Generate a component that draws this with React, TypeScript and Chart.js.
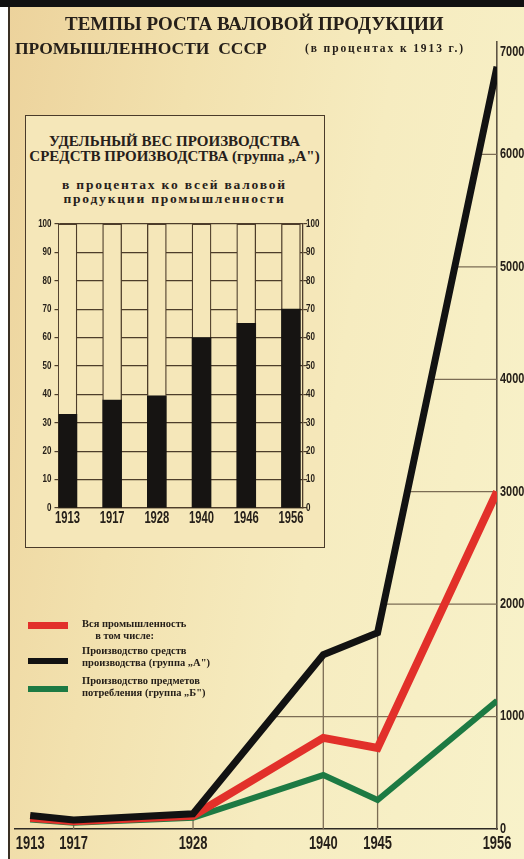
import React, { useEffect, useRef } from 'react';
import { Chart, registerables } from 'chart.js';

Chart.register(...registerables);

// ---- Main chart data (index, % of 1913) ----
const YEARS = [1913, 1917, 1928, 1940, 1945, 1956];
const TOTAL = [100, 70, 118, 810, 720, 3000];
const GROUP_A = [120, 80, 135, 1550, 1745, 6780];
const GROUP_B = [85, 55, 100, 480, 258, 1140];
const Y_TICKS = [0, 1000, 2000, 3000, 4000, 5000, 6000, 7000];

// ---- Inset data (share of group A, %) ----
const SHARE_YEARS = ['1913', '1917', '1928', '1940', '1946', '1956'];
const SHARE_A = [33, 38, 39.5, 60, 65, 70];
const SHARE_TICKS = [0, 10, 20, 30, 40, 50, 60, 70, 80, 90, 100];

const NUM_FAMILY = "'Liberation Sans', Arial, sans-serif";
const SERIF = "'Liberation Serif', 'DejaVu Serif', serif";
const INK = '#26201a';
const PAPER_INSET = '#f5e7b9';

const MAIN_W = 560;
const MAIN_H = 859;

type LabelSpec = {
  axis: string;
  values: number[];
  labels: string[];
  size: number;
  squeeze: number;
  pad: number;
  clampTop?: number;
};

// Draws tick labels in a narrow (condensed) face, positioned by the chart's scales.
const narrowTicks = (specs: LabelSpec[]) => ({
  id: 'narrowTicks',
  afterDraw(chart: any) {
    const ctx = chart.ctx;
    specs.forEach((sp) => {
      const s = chart.scales[sp.axis];
      if (!s) return;
      sp.values.forEach((v, i) => {
        const text = sp.labels[i];
        let x: number;
        let y: number;
        let align: CanvasTextAlign;
        let baseline: CanvasTextBaseline;
        if (s.isHorizontal()) {
          x = s.getPixelForValue(v);
          y = s.top + sp.pad;
          align = 'center';
          baseline = 'top';
        } else if (s.position === 'left') {
          x = s.right - sp.pad;
          y = s.getPixelForValue(v);
          align = 'right';
          baseline = 'middle';
        } else {
          x = s.left + sp.pad;
          y = s.getPixelForValue(v);
          align = 'left';
          baseline = 'middle';
        }
        if (sp.clampTop !== undefined && !s.isHorizontal()) {
          y = Math.max(y, s.top + sp.clampTop);
        }
        ctx.save();
        ctx.font = `bold ${sp.size}px ${NUM_FAMILY}`;
        ctx.fillStyle = INK;
        ctx.textAlign = align;
        ctx.textBaseline = baseline;
        ctx.translate(x, y);
        ctx.scale(sp.squeeze, 1);
        ctx.fillText(text, 0, 0);
        ctx.restore();
      });
    });
  },
});

// Grid of the main chart, visible only in the area beneath the group "A" line.
const underGrid = {
  id: 'underGrid',
  beforeDatasetsDraw(chart: any) {
    const { ctx, chartArea: a, scales } = chart;
    const x = scales.x;
    const y = scales.y;
    const meta = chart.getDatasetMeta(1);
    const base = y.getPixelForValue(0);
    ctx.save();
    ctx.beginPath();
    ctx.moveTo(meta.data[0].x, base);
    meta.data.forEach((p: any) => ctx.lineTo(p.x, p.y));
    ctx.lineTo(a.right, base);
    ctx.closePath();
    ctx.clip();
    ctx.strokeStyle = '#7b6c54';
    ctx.lineWidth = 1.3;
    Y_TICKS.slice(1).forEach((v) => {
      const py = y.getPixelForValue(v);
      ctx.beginPath();
      ctx.moveTo(a.left, py);
      ctx.lineTo(a.right, py);
      ctx.stroke();
    });
    YEARS.slice(1, -1).forEach((v) => {
      const px = x.getPixelForValue(v);
      ctx.beginPath();
      ctx.moveTo(px, a.top);
      ctx.lineTo(px, base);
      ctx.stroke();
    });
    ctx.restore();
  },
};

function MainChart() {
  const ref = useRef<HTMLCanvasElement>(null);
  useEffect(() => {
    const chart = new Chart(ref.current as HTMLCanvasElement, {
      type: 'line',
      data: {
        datasets: [
          {
            label: 'Вся промышленность',
            data: YEARS.map((yr, i) => ({ x: yr, y: TOTAL[i] })),
            borderColor: '#e2302a',
            borderWidth: 8,
            pointRadius: 0,
            tension: 0,
            order: 1,
          },
          {
            label: 'Производство средств производства (группа „А")',
            data: YEARS.map((yr, i) => ({ x: yr, y: GROUP_A[i] })),
            borderColor: '#121212',
            borderWidth: 7,
            pointRadius: 0,
            tension: 0,
            order: 0,
          },
          {
            label: 'Производство предметов потребления (группа „Б")',
            data: YEARS.map((yr, i) => ({ x: yr, y: GROUP_B[i] })),
            borderColor: '#1d7a43',
            borderWidth: 6,
            pointRadius: 0,
            tension: 0,
            order: 2,
          },
        ],
      },
      options: {
        animation: false,
        responsive: false,
        maintainAspectRatio: false,
        layout: { padding: { left: 15, top: 42, right: 0, bottom: 0 } },
        plugins: { legend: { display: false }, tooltip: { enabled: false } },
        scales: {
          x: {
            type: 'linear',
            min: 1911.6,
            max: 1956,
            afterBuildTicks: (s: any) => {
              s.ticks = YEARS.map((v) => ({ value: v }));
            },
            afterFit: (s: any) => {
              s.height = 30;
            },
            grid: { display: false, drawTicks: false },
            border: { display: true, color: '#2e2a24', width: 1.6 },
            ticks: { display: false },
          },
          y: {
            type: 'linear',
            position: 'right',
            min: 0,
            max: 7000,
            afterBuildTicks: (s: any) => {
              s.ticks = Y_TICKS.map((v) => ({ value: v }));
            },
            afterFit: (s: any) => {
              s.width = MAIN_W - 497;
            },
            grid: { display: false, drawTicks: false },
            border: { display: true, color: '#5e5444', width: 1.6 },
            ticks: { display: false },
          },
        },
      },
      plugins: [
        underGrid,
        narrowTicks([
          { axis: 'x', values: YEARS, labels: YEARS.map(String), size: 19, squeeze: 0.68, pad: 5 },
          { axis: 'y', values: Y_TICKS, labels: Y_TICKS.map(String), size: 14, squeeze: 0.78, pad: 3, clampTop: 10 },
        ]),
      ],
    } as any);
    return () => chart.destroy();
  }, []);
  return (
    <canvas
      ref={ref}
      width={MAIN_W}
      height={MAIN_H}
      style={{ position: 'absolute', left: 0, top: 0, width: MAIN_W, height: MAIN_H }}
    />
  );
}

const BAR_W = 297;
const BAR_H = 322;

function InsetChart() {
  const ref = useRef<HTMLCanvasElement>(null);
  useEffect(() => {
    const idx = SHARE_YEARS.map((_, i) => i);
    const chart = new Chart(ref.current as HTMLCanvasElement, {
      type: 'bar',
      data: {
        datasets: [
          {
            label: 'группа „А"',
            data: SHARE_A.map((v, i) => ({ x: i, y: v })),
            backgroundColor: '#161412',
            borderWidth: 0,
            barThickness: 19,
            grouped: false,
          },
          {
            label: 'остальное',
            data: SHARE_A.map((v, i) => ({ x: i, y: 100 - v })),
            backgroundColor: PAPER_INSET,
            borderColor: '#4d3d2a',
            borderWidth: { left: 1.3, right: 1.3, top: 1.3, bottom: 0 },
            borderSkipped: false,
            barThickness: 19,
            grouped: false,
          },
        ],
      },
      options: {
        animation: false,
        responsive: false,
        maintainAspectRatio: false,
        layout: { padding: { top: 10, left: 0, right: 0, bottom: 0 } },
        plugins: { legend: { display: false }, tooltip: { enabled: false } },
        scales: {
          x: {
            type: 'linear',
            stacked: true,
            offset: false,
            min: -0.2,
            max: 5.27,
            afterBuildTicks: (s: any) => {
              s.ticks = idx.map((i) => ({ value: i }));
            },
            afterFit: (s: any) => {
              s.height = 28;
            },
            grid: { display: false, drawTicks: false },
            border: { display: true, color: '#4d3d2a', width: 1.3 },
            ticks: { display: false },
          },
          y: {
            type: 'linear',
            stacked: true,
            position: 'left',
            min: 0,
            max: 100,
            afterBuildTicks: (s: any) => {
              s.ticks = SHARE_TICKS.map((v) => ({ value: v }));
            },
            afterFit: (s: any) => {
              s.width = 30.5;
            },
            grid: { color: '#4d3d2a', lineWidth: 1.2, drawTicks: true, tickLength: 4 },
            border: { display: true, color: '#4d3d2a', width: 1.3 },
            ticks: { display: false },
          },
          y2: {
            type: 'linear',
            position: 'right',
            min: 0,
            max: 100,
            afterBuildTicks: (s: any) => {
              s.ticks = SHARE_TICKS.map((v) => ({ value: v }));
            },
            afterFit: (s: any) => {
              s.width = BAR_W - 275;
            },
            grid: { color: '#4d3d2a', lineWidth: 1.2, drawOnChartArea: false, drawTicks: true, tickLength: 4 },
            border: { display: true, color: '#4d3d2a', width: 1.3 },
            ticks: { display: false },
          },
        },
      },
      plugins: [
        narrowTicks([
          { axis: 'x', values: idx, labels: SHARE_YEARS, size: 16, squeeze: 0.7, pad: 3 },
          { axis: 'y', values: SHARE_TICKS, labels: SHARE_TICKS.map(String), size: 10, squeeze: 0.8, pad: 7 },
          { axis: 'y2', values: SHARE_TICKS, labels: SHARE_TICKS.map(String), size: 10, squeeze: 0.8, pad: 3 },
        ]),
      ],
    } as any);
    return () => chart.destroy();
  }, []);
  return (
    <canvas
      ref={ref}
      width={BAR_W}
      height={BAR_H}
      style={{ position: 'absolute', left: 2, top: 98, width: BAR_W, height: BAR_H }}
    />
  );
}

const txt = (extra: React.CSSProperties): React.CSSProperties => ({
  position: 'absolute',
  fontFamily: SERIF,
  fontWeight: 'bold',
  color: INK,
  whiteSpace: 'nowrap',
  lineHeight: 1,
  ...extra,
});

const LEGEND = [
  { color: '#e2302a', top: 622, h: 7, lines: ['Вся промышленность', '     в том числе:'], textTop: 619 },
  { color: '#121212', top: 658, h: 6, lines: ['Производство средств', 'производства (группа „А")'], textTop: 646 },
  { color: '#1d7a43', top: 686, h: 6, lines: ['Производство предметов', 'потребления (группа „Б")'], textTop: 676 },
];

export default function App() {
  return (
    <div
      style={{
        position: 'absolute',
        left: 0,
        top: 0,
        width: 524,
        height: 859,
        overflow: 'hidden',
        background: 'linear-gradient(100deg, #ecd29b 0%, #f2e1ae 30%, #f6ecc0 60%, #f8f2ca 100%)',
      }}
    >
      <div style={{ position: 'absolute', left: 0, top: 0, width: 8, height: 859, background: '#fff' }} />
      <div style={{ position: 'absolute', left: 8, top: 0, width: 1.5, height: 859, background: '#3a3024' }} />
      <div style={{ position: 'absolute', left: 0, top: 0, width: 524, height: 7, background: '#111' }} />

      <MainChart />

      <div style={txt({ left: 65, top: 14, fontSize: 19 })}>ТЕМПЫ РОСТА ВАЛОВОЙ ПРОДУКЦИИ</div>
      <div style={txt({ left: 15, top: 40, fontSize: 17.5 })}>ПРОМЫШЛЕННОСТИ&nbsp;&nbsp;СССР</div>
      <div style={txt({ left: 305, top: 43, fontSize: 11.5, letterSpacing: 1.9 })}>(в процентах к 1913 г.)</div>

      <div
        style={{
          position: 'absolute',
          left: 25,
          top: 115,
          width: 300,
          height: 433,
          border: '1.5px solid #4a3b2a',
          background: PAPER_INSET,
          boxSizing: 'border-box',
        }}
      >
        <div style={txt({ left: 0, width: 297, textAlign: 'center', top: 18, fontSize: 15 })}>
          УДЕЛЬНЫЙ ВЕС ПРОИЗВОДСТВА
        </div>
        <div style={txt({ left: 0, width: 297, textAlign: 'center', top: 33, fontSize: 15 })}>
          СРЕДСТВ ПРОИЗВОДСТВА (группа „А")
        </div>
        <div style={txt({ left: 0, width: 297, textAlign: 'center', top: 62, fontSize: 13.5, letterSpacing: 1.8 })}>
          в процентах ко всей валовой
        </div>
        <div style={txt({ left: 0, width: 297, textAlign: 'center', top: 76, fontSize: 13.5, letterSpacing: 1.8 })}>
          продукции промышленности
        </div>
        <InsetChart />
      </div>

      {LEGEND.map((l, i) => (
        <React.Fragment key={i}>
          <div style={{ position: 'absolute', left: 28, top: l.top, width: 40, height: l.h, background: l.color }} />
          {l.lines.map((ln, j) => (
            <div key={j} style={txt({ left: 82, top: l.textTop + j * 11.5, fontSize: 10.5, whiteSpace: 'pre' })}>
              {ln}
            </div>
          ))}
        </React.Fragment>
      ))}
    </div>
  );
}
